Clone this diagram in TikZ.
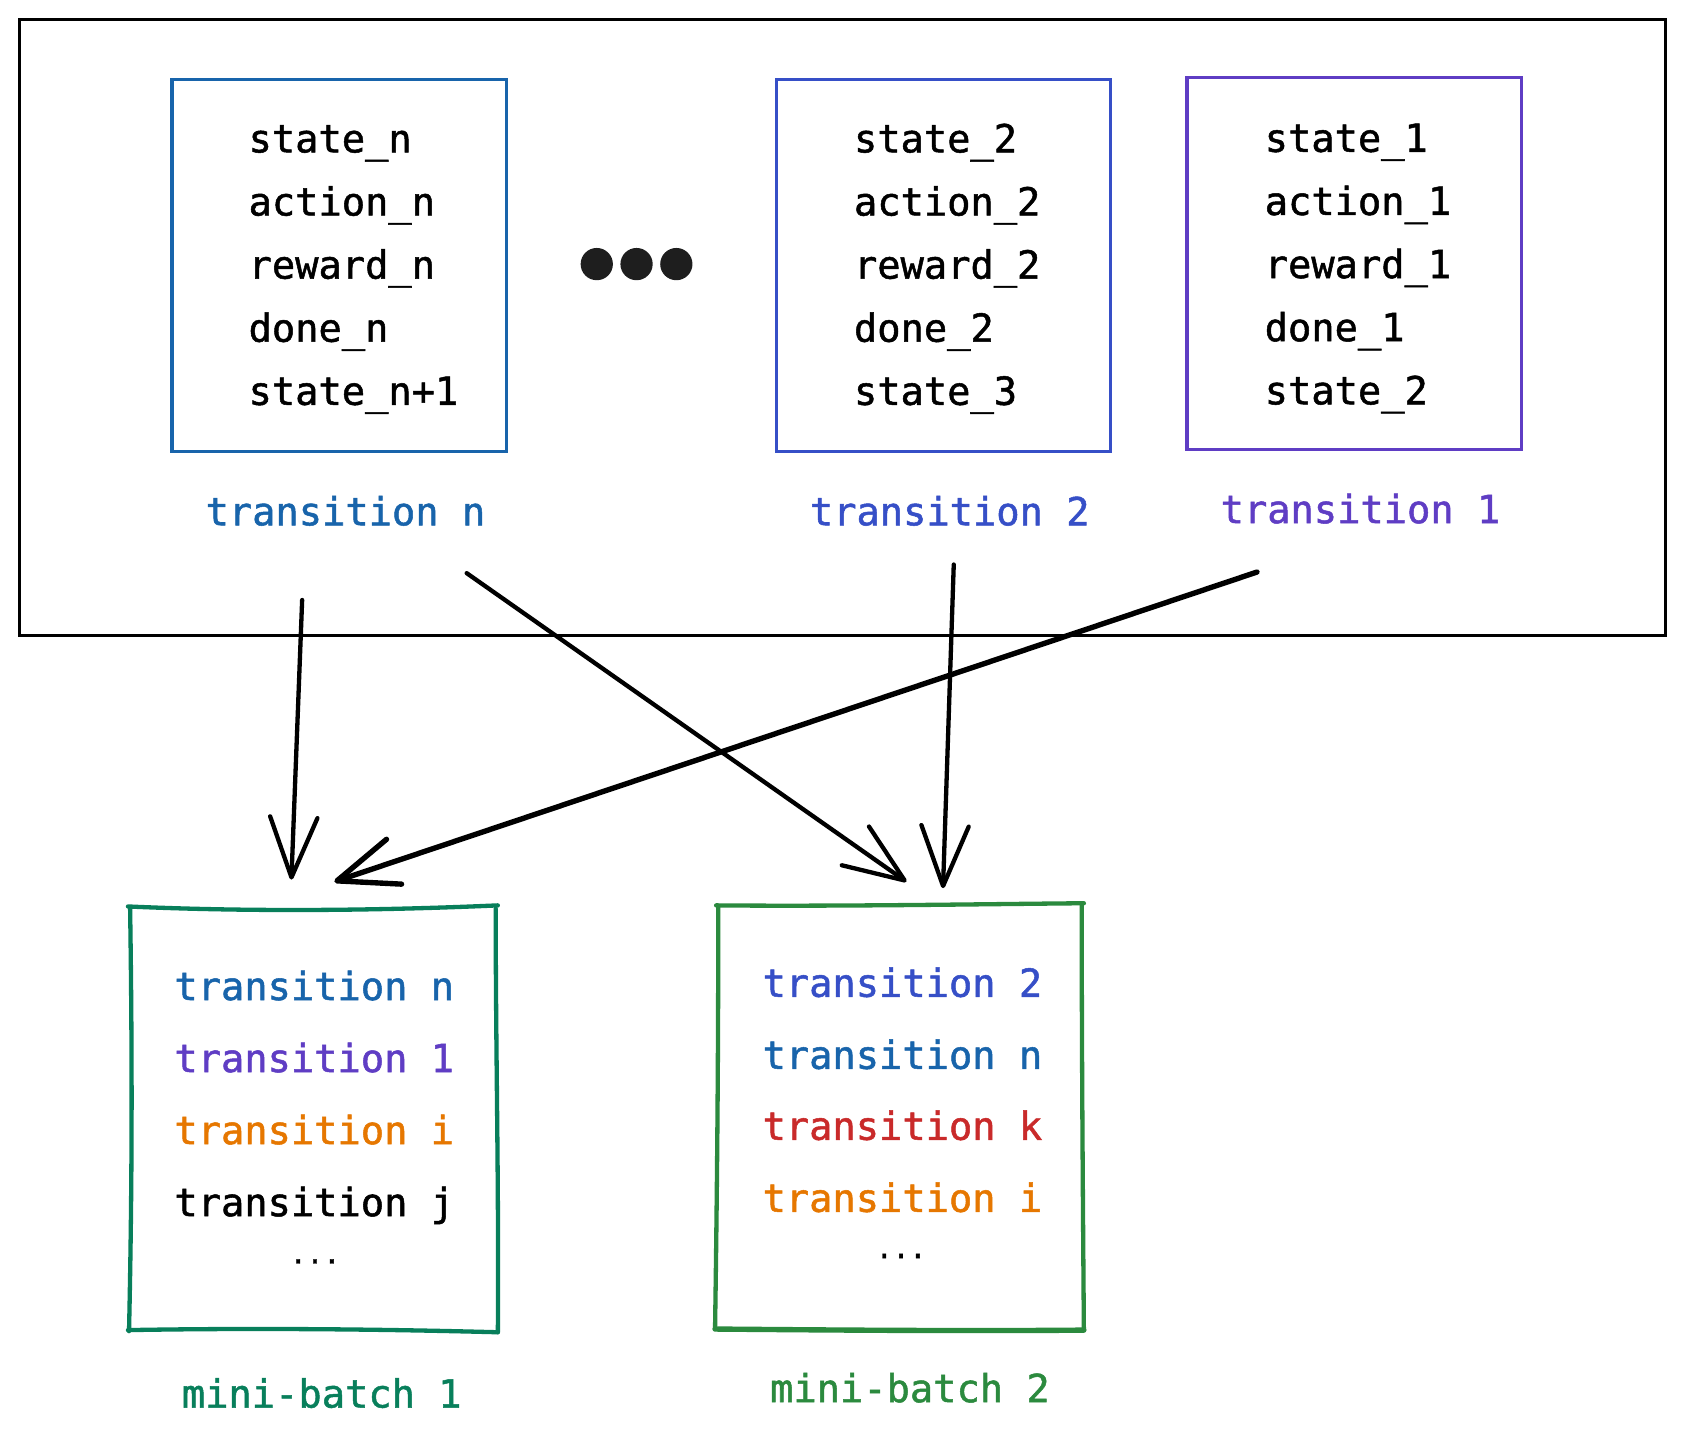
\documentclass[tikz,border=0pt]{standalone}
\usepackage{fontspec}
\setmonofont[FakeBold=1.3]{DejaVu Sans Mono}
\usetikzlibrary{arrows.meta}
\definecolor{tblue}{HTML}{1864AB}
\definecolor{tindigo}{HTML}{364FC7}
\definecolor{tviolet}{HTML}{5F3DC4}
\definecolor{torange}{HTML}{E67700}
\definecolor{tred}{HTML}{C92A2A}
\definecolor{tteal}{HTML}{087F5B}
\definecolor{tgreen}{HTML}{2B8A3E}
\definecolor{tdot}{HTML}{1E1E1E}
\begin{document}
\begin{tikzpicture}[x=1pt,y=-1pt,
  tbox/.style={draw=#1,line width=3pt,minimum width=311pt,minimum height=346pt,inner sep=0pt,rectangle},
  txt/.style={anchor=base west,inner sep=0pt,text=#1,font=\ttfamily\fontsize{36}{40}\selectfont},
  txt/.default=black,
  ell/.style={anchor=base,inner sep=0pt,font=\ttfamily\fontsize{26}{30}\selectfont},
  sk/.style={draw=#1,line width=4pt,line cap=round,line join=round},
  conn/.style={line width=4pt,line cap=round,-{Straight Barb[length=56pt,width=44pt,line cap=round,line join=round]}},
  bigdot/.style={circle,fill=tdot,minimum size=30pt,inner sep=0pt}
]
\useasboundingbox (0,0) rectangle (1568,1334);
\fill[white] (0,0) rectangle (1568,1334);

% outer frame
\node[draw=black,line width=3pt,minimum width=1531pt,minimum height=573pt,inner sep=0pt] (frame) at (783.5,304.5) {};

% transition boxes
\node[tbox=tblue] (bn) at (315.5,247) {};
\node[tbox=tindigo] (b2) at (877.5,247) {};
\node[tbox=tviolet] (b1) at (1259.5,245) {};

\node[txt] (bn1) at (231,141.7) {state\_n};
\node[txt] (bn2) at (231,200.4) {action\_n};
\node[txt] (bn3) at (231,259.1) {reward\_n};
\node[txt] (bn4) at (231,317.8) {done\_n};
\node[txt] (bn5) at (231,376.5) {state\_n+1};

\node[txt] (b21) at (794,141.7) {state\_2};
\node[txt] (b22) at (794,200.4) {action\_2};
\node[txt] (b23) at (794,259.1) {reward\_2};
\node[txt] (b24) at (794,317.8) {done\_2};
\node[txt] (b25) at (794,376.5) {state\_3};

\node[txt] (b11) at (1176,141.2) {state\_1};
\node[txt] (b12) at (1176,199.9) {action\_1};
\node[txt] (b13) at (1176,258.6) {reward\_1};
\node[txt] (b14) at (1176,317.3) {done\_1};
\node[txt] (b15) at (1176,376) {state\_2};

\node[txt=tblue] (ln) at (191,488.5) {transition n};
\node[txt=tindigo] (l2) at (753,488.5) {transition 2};
\node[txt=tviolet] (l1) at (1135,486.5) {transition 1};

% dots
\node[bigdot] (d1) at (555,245.6) {};
\node[bigdot] (d2) at (592,245.6) {};
\node[bigdot] (d3) at (629,245.6) {};

% mini-batch 1 (sketchy)
\coordinate (m1tl) at (119,843);
\coordinate (m1tr) at (463,842);
\coordinate (m1br) at (463,1239);
\coordinate (m1bl) at (119,1237);
\draw[sk=tteal] (m1tl) .. controls (230,848) and (350,847) .. (m1tr);
\draw[sk=tteal] (461,845) .. controls (461,980) and (464,1100) .. (m1br);
\draw[sk=tteal] (m1br) .. controls (350,1236) and (230,1235) .. (m1bl);
\draw[sk=tteal] (120,1238) .. controls (123,1100) and (123,980) .. (121,844);

\node[txt=tblue] (m1a) at (162,930) {transition n};
\node[txt=tviolet] (m1b) at (162,997) {transition 1};
\node[txt=torange] (m1c) at (162,1064) {transition i};
\node[txt] (m1d) at (162,1131) {transition j};
\node[ell] (m1e) at (293,1175) {...};
\node[txt=tteal] (m1l) at (169,1309) {mini-batch 1};

% mini-batch 2 (sketchy)
\coordinate (m2tl) at (666,842);
\coordinate (m2tr) at (1008,840);
\coordinate (m2br) at (1008,1237);
\coordinate (m2bl) at (665,1236);
\draw[sk=tgreen] (m2tl) .. controls (780,843) and (900,841) .. (m2tr);
\draw[sk=tgreen] (1006,842) .. controls (1006,980) and (1007,1100) .. (m2br);
\draw[sk=tgreen,line width=5pt] (m2br) .. controls (900,1238) and (780,1237) .. (m2bl);
\draw[sk=tgreen] (665,1236) .. controls (667,1100) and (668,980) .. (668,843);

\node[txt=tindigo] (m2a) at (709,927) {transition 2};
\node[txt=tblue] (m2b) at (709,994) {transition n};
\node[txt=tred] (m2c) at (709,1060) {transition k};
\node[txt=torange] (m2d) at (709,1127) {transition i};
\node[ell] (m2e) at (838,1170) {...};
\node[txt=tgreen] (m2l) at (716,1304) {mini-batch 2};

% connectors
\coordinate (s1) at (281,558);
\coordinate (e1) at (271,818);
\coordinate (s2) at (434,533);
\coordinate (e2) at (843,820);
\coordinate (s3) at (887,525);
\coordinate (e3) at (877,826);
\coordinate (s4) at (1169,532);
\coordinate (e4) at (311,820);
\draw[conn] (s1) -- (e1);
\draw[conn] (s2) -- (e2);
\draw[conn] (s3) -- (e3);
\draw[conn,line width=5pt] (s4) -- (e4);
\end{tikzpicture}
\end{document}
